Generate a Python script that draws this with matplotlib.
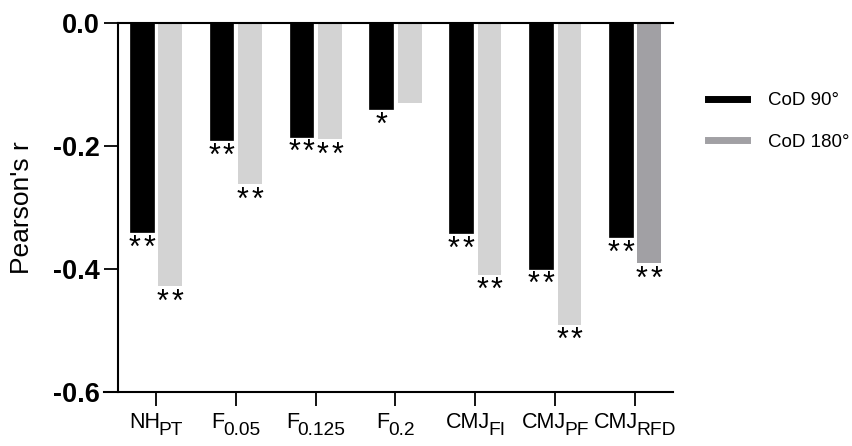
import matplotlib
matplotlib.use("Agg")
import matplotlib.pyplot as plt
import matplotlib.transforms as mtransforms
from matplotlib.lines import Line2D
import numpy as np

plt.rcParams['font.family'] = ['Liberation Sans', 'DejaVu Sans']
plt.rcParams['axes.unicode_minus'] = False

cat_main = ['NH', 'F', 'F', 'F', 'CMJ', 'CMJ', 'CMJ']
cat_sub = ['PT', '0.05', '0.125', '0.2', 'FI', 'PF', 'RFD']
cod90 = [-0.340, -0.191, -0.185, -0.140, -0.342, -0.400, -0.348]
cod180 = [-0.428, -0.262, -0.189, -0.130, -0.409, -0.491, -0.391]
stars90 = [2, 2, 2, 1, 2, 2, 2]
stars180 = [2, 2, 2, 0, 2, 2, 2]
colors180 = ['#d3d3d3', '#d3d3d3', '#d3d3d3', '#d3d3d3', '#d3d3d3', '#d3d3d3', '#a1a0a4']
series_labels = ['CoD 90°', 'CoD 180°']
yticks = [0.0, -0.2, -0.4, -0.6]

W, H = 852, 446
fig = plt.figure(figsize=(W / 100, H / 100), dpi=100)
ax = fig.add_axes([104 / W, (H - 392) / H, 569 / W, 369 / H])

x = np.arange(len(cat_main))
bw = 0.296
off = 0.178
ax.bar(x - off, cod90, bw, color='black', edgecolor='black', linewidth=0.5)
ax.bar(x + off, cod180, bw, color=colors180, edgecolor='none')


def add_stars(xs, vals, counts):
    for xi, v, n in zip(xs, vals, counts):
        if n == 0:
            continue
        offsets = [0.0] if n == 1 else [-5.3, 5.3]
        for dx in offsets:
            ax.annotate('*', (xi, v), xytext=(dx, -1), textcoords='offset points',
                        ha='center', va='top', fontsize=22)


add_stars(x - off, cod90, stars90)
add_stars(x + off, cod180, stars180)

ax.set_xlim(-0.651, 6.476)
ax.set_ylim(-0.6, 0.0)
ax.spines['top'].set_visible(False)
ax.spines['right'].set_visible(False)
ax.spines['left'].set_position(('data', -0.476))
ax.spines['left'].set_linewidth(1.5)
ax.spines['bottom'].set_linewidth(1.5)
ax.axhline(0, xmin=(118 - 104) / 569, xmax=1, color='black', lw=1.5, clip_on=False, zorder=3)

ax.set_yticks(yticks)
ax.set_yticklabels([f'{t:.1f}' for t in yticks], fontsize=19.5, fontweight='bold')
ax.set_xticks(x)
ax.set_xticklabels([''] * len(x))
ax.tick_params(axis='y', length=9.8, width=1.3, pad=3)
ax.tick_params(axis='x', length=10, width=1.3, pad=3)
ax.set_ylabel("Pearson's r", fontsize=19, labelpad=14)

# category labels with large subscripts
renderer = fig.canvas.get_renderer()
tr = ax.get_xaxis_transform()
main_fs, sub_fs = 15.5, 13.8
for xi, m, s in zip(x, cat_main, cat_sub):
    tm = ax.text(xi, 0, m, transform=tr, fontsize=main_fs, ha='left', va='baseline', clip_on=False)
    ts = ax.text(xi, 0, s, transform=tr, fontsize=sub_fs, ha='left', va='baseline', clip_on=False)
    wm = tm.get_window_extent(renderer).width - 1.5
    ws = ts.get_window_extent(renderer).width
    total = wm + ws
    tm.set_transform(mtransforms.offset_copy(tr, fig=fig, x=-total / 2, y=-36, units='dots'))
    ts.set_transform(mtransforms.offset_copy(tr, fig=fig, x=-total / 2 + wm, y=-43, units='dots'))

handles = [Line2D([], [], color='black', lw=5), Line2D([], [], color='#a1a0a4', lw=5)]
fig.legend(handles, series_labels, loc='upper left', bbox_to_anchor=(708 / W, 1 - 92 / H),
           frameon=False, fontsize=13.5, handlelength=2.1, handletextpad=1.1,
           labelspacing=1.3, borderpad=0, borderaxespad=0)

fig.savefig('out.png', dpi=100)
